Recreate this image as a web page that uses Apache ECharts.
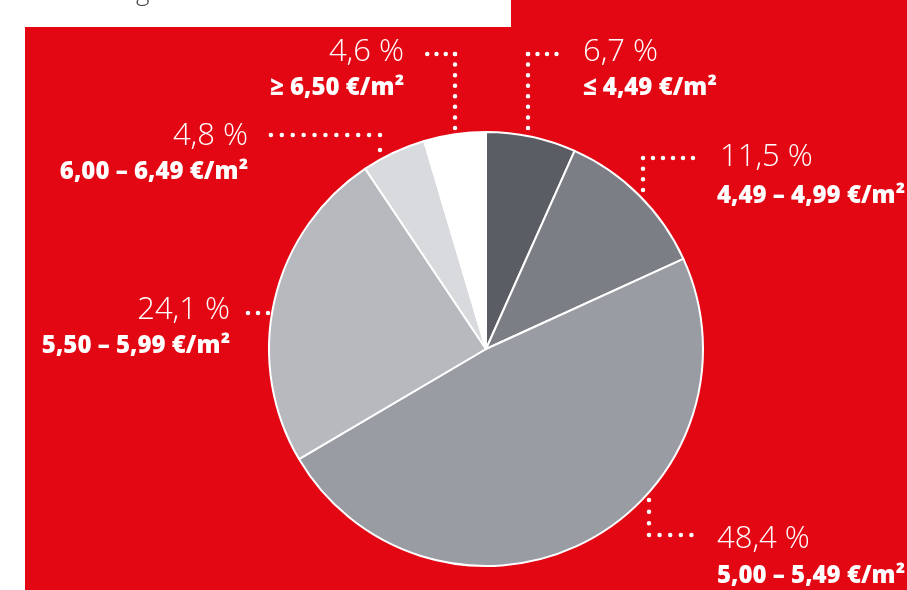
<!DOCTYPE html>
<html>
<head>
<meta charset="utf-8">
<script src="https://cdn.jsdelivr.net/npm/echarts@6/dist/echarts.min.js"></script>
<style>
html,body{margin:0;padding:0;background:#fff;}
#chart{width:907px;height:590px;}
</style>
</head>
<body>
<div id="chart"></div>
<script>
// ---- data ----
const categories = ['≤ 4,49 €/m²', '4,49 – 4,99 €/m²', '5,00 – 5,49 €/m²', '5,50 – 5,99 €/m²', '6,00 – 6,49 €/m²', '≥ 6,50 €/m²'];
const shares = [6.7, 11.5, 48.4, 24.1, 4.8, 4.6];
const sliceColors = ['#5a5d63', '#7b7e85', '#999ca3', '#b7b9bf', '#d9dadd', '#ffffff'];

// ---- annotation layout (pixels) ----
const labelLayout = [
  {x: 583, y: 52, align: 'left',  y2: 88},
  {x: 720, y: 157, align: 'left', y2: 196, x2: 717},
  {x: 717, y: 539, align: 'left', y2: 576},
  {x: 230, y: 310, align: 'right', y2: 346},
  {x: 248, y: 136, align: 'right', y2: 172},
  {x: 404, y: 52, align: 'right', y2: 88}
];
const leaders = [
  [[528,128],[528,54],[566,54]],
  [[643,190],[643,158],[703,158]],
  [[649,500],[649,535],[702,535]],
  [[268,313],[238,313]],
  [[380,150],[380,135],[260,135]],
  [[455,128],[455,54],[418,54]]
];

const fmt = v => v.toFixed(1).replace('.', ',') + ' %';
const RED = '#e30613';

const graphics = [
  {type:'rect', z:-10, shape:{x:25,y:27,width:882,height:563}, style:{fill:RED}},
  {type:'rect', z:-10, shape:{x:511,y:0,width:396,height:27}, style:{fill:RED}},
  {type:'text', style:{x:136, y:6, text:'g', fill:'#444', font:'300 26px "Open Sans"', verticalAlign:'bottom'}}
];

leaders.forEach(pts => {
  for (let i = 0; i < pts.length - 1; i++) {
    const a = pts[i], b = pts[i+1];
    const len = Math.hypot(b[0]-a[0], b[1]-a[1]);
    const n = Math.max(1, Math.round(len / 10.5));
    graphics.push({type:'line', z:5,
      shape:{x1:a[0], y1:a[1], x2:b[0], y2:b[1]},
      style:{stroke:'#fff', lineWidth:4.5, lineCap:'round', lineDash:[0, len / n]}});
  }
});

shares.forEach((v, i) => {
  const L = labelLayout[i];
  graphics.push({type:'text', z:6, style:{x:L.x, y:L.y, text:fmt(v), fill:'#ffffff', align:L.align, verticalAlign:'middle', font:'300 31px "Open Sans"'}});
  graphics.push({type:'text', z:6, style:{x:L.x2 !== undefined ? L.x2 : L.x, y:L.y2, text:categories[i], fill:'#ffffff', align:L.align, verticalAlign:'middle', font:'800 24px "Open Sans"'}});
});

const chart = echarts.init(document.getElementById('chart'));
chart.setOption({
  backgroundColor: 'transparent',
  animation: false,
  graphic: graphics,
  series: [{
    type: 'pie',
    center: [486, 349],
    radius: [0, 217],
    startAngle: 90,
    clockwise: true,
    label: {show: false},
    labelLine: {show: false},
    silent: true,
    itemStyle: {borderColor: '#ffffff', borderWidth: 2},
    data: categories.map((c, i) => ({name: c, value: shares[i], itemStyle: {color: sliceColors[i]}}))
  }]
});
</script>
</body>
</html>
